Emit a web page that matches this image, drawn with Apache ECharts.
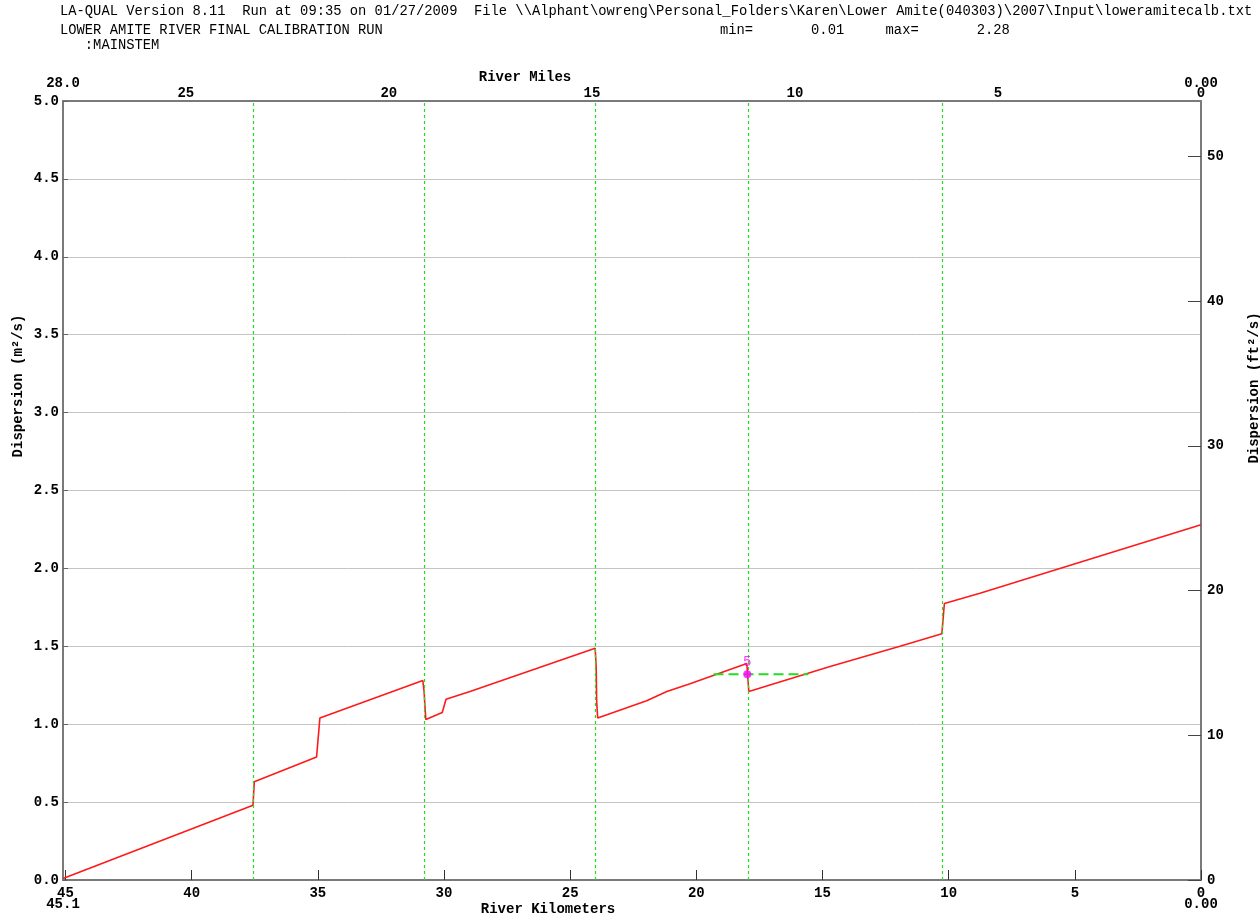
<!DOCTYPE html>
<html>
<head>
<meta charset="utf-8">
<script src="https://cdn.jsdelivr.net/npm/echarts@6/dist/echarts.min.js"></script>
<style>
  html, body { margin: 0; padding: 0; background: #fff; }
  #chart { width: 1260px; height: 916px; }
</style>
</head>
<body>
<div id="chart"></div>
<script>
// Simulated longitudinal dispersion along the main stem (river km -> m²/s)
const profileKm  = [45.1, 37.57, 37.52, 35.05, 34.92, 30.84, 30.79, 30.75, 30.72, 30.07, 29.92, 28.97,
                    24.01, 23.97, 23.95, 23.91, 21.97, 21.17, 20.25, 18.00, 17.92, 14.70, 11.93,
                    10.27, 10.17, 8.76, 0.0];
const profileVal = [0.01, 0.48, 0.63, 0.79, 1.04, 1.28, 1.21, 1.10, 1.03, 1.075, 1.16, 1.21,
                    1.487, 1.37, 1.145, 1.04, 1.15, 1.21, 1.26, 1.39, 1.21, 1.37, 1.50,
                    1.58, 1.775, 1.84, 2.28];

// Calibration observation: station label, location, value and reach span
const obsLabel = ['5'];
const obsKm    = [17.98];
const obsVal   = [1.32];
const obsFromKm = [19.32];
const obsToKm   = [15.56];

// Reach boundaries (river km)
const reachKm = [37.57, 30.79, 24.01, 17.95, 10.26];

// Axis ticks
const kmTicks   = [45, 40, 35, 30, 25, 20, 15, 10, 5, 0];
const mileTicks = [25, 20, 15, 10, 5, 0];
const kmEnds    = [45.1, 0];
const KM_MAX = 45.1;
const M2_MAX = 5.0;
const KM_PER_MILE = 1.609344;
const FT2_PER_M2 = 10.7639;

const MONO = '"Liberation Mono", "DejaVu Sans Mono", monospace';
const AXIS_GRAY = '#7a7a7a';

const chart = echarts.init(document.getElementById('chart'), null, { renderer: 'canvas' });

const tickFont = { fontFamily: MONO, fontWeight: 'bold', fontSize: 14, color: '#000' };

const option = {
  animation: false,
  backgroundColor: '#fff',
  grid: { left: 63, right: 59, top: 101, bottom: 36, containLabel: false },
  xAxis: [
    { // river kilometers (bottom)
      type: 'value', position: 'bottom', inverse: true, min: 0, max: KM_MAX,
      axisLine: { show: true, onZero: false, lineStyle: { color: AXIS_GRAY, width: 2 } },
      axisTick: { show: true, inside: true, length: 10, customValues: kmTicks, lineStyle: { color: '#333', width: 1 } },
      axisLabel: Object.assign({ margin: 6, customValues: kmTicks, formatter: v => String(v) }, tickFont),
      splitLine: { show: false }
    },
    { // river kilometer end values
      type: 'value', position: 'bottom', inverse: true, min: 0, max: KM_MAX, offset: 11,
      axisLine: { show: false }, axisTick: { show: false }, splitLine: { show: false },
      axisLabel: Object.assign({ margin: 6, customValues: kmEnds,
        formatter: v => (v === 0 ? '0.00' : v.toFixed(1)) }, tickFont)
    },
    { // river miles (top)
      type: 'value', position: 'top', inverse: true, min: 0, max: KM_MAX / KM_PER_MILE,
      axisLine: { show: true, onZero: false, lineStyle: { color: AXIS_GRAY, width: 2 } },
      axisTick: { show: false },
      axisLabel: Object.assign({ margin: 1, customValues: mileTicks, formatter: v => String(v) }, tickFont),
      splitLine: { show: false }
    },
    { // river mile end values
      type: 'value', position: 'top', inverse: true, min: 0, max: KM_MAX / KM_PER_MILE, offset: 10,
      axisLine: { show: false }, axisTick: { show: false }, splitLine: { show: false },
      axisLabel: Object.assign({ margin: 1, customValues: [KM_MAX / KM_PER_MILE, 0],
        formatter: v => (v === 0 ? '0.00' : v.toFixed(1)) }, tickFont)
    }
  ],
  yAxis: [
    {
      type: 'value', position: 'left', min: 0, max: M2_MAX, interval: 0.5,
      axisLine: { show: true, onZero: false, lineStyle: { color: AXIS_GRAY, width: 2 } },
      axisTick: { show: true, inside: true, length: 5, lineStyle: { color: '#666' } },
      axisLabel: Object.assign({ margin: 4, formatter: v => v.toFixed(1) }, tickFont),
      splitLine: { show: true, lineStyle: { color: '#c4c4c4', width: 1 } }
    },
    {
      type: 'value', position: 'right', min: 0, max: M2_MAX * FT2_PER_M2, interval: 10,
      alignTicks: false,
      axisLine: { show: true, onZero: false, lineStyle: { color: AXIS_GRAY, width: 2 } },
      axisTick: { show: true, inside: true, length: 13, lineStyle: { color: '#444', width: 1 } },
      axisLabel: Object.assign({ margin: 6, showMaxLabel: false, formatter: v => String(v) }, tickFont),
      splitLine: { show: false }
    }
  ],
  series: [
    { // reach boundaries
      type: 'line', data: [], xAxisIndex: 0, yAxisIndex: 0, silent: true,
      markLine: {
        silent: true, symbol: 'none', animation: false,
        label: { show: false },
        lineStyle: { color: '#22dd22', type: [3, 3], width: 1.2 },
        data: reachKm.map(k => ({ xAxis: k }))
      }
    },
    { // simulated dispersion
      type: 'line', xAxisIndex: 0, yAxisIndex: 0,
      data: profileKm.map((k, i) => [k, profileVal[i]]),
      showSymbol: false, symbol: 'none',
      lineStyle: { color: '#ff1a1a', width: 1.6 }, z: 3
    },
    { // observation span
      type: 'line', xAxisIndex: 0, yAxisIndex: 0,
      data: [[obsFromKm[0], obsVal[0]], [obsToKm[0], obsVal[0]]],
      showSymbol: false, symbol: 'none',
      lineStyle: { color: '#22dd22', width: 2, type: [10, 5] }, z: 4
    },
    { // observation
      type: 'scatter', xAxisIndex: 0, yAxisIndex: 0,
      data: obsKm.map((k, i) => ({ value: [k, obsVal[i]], name: obsLabel[i] })),
      symbol: 'circle', symbolSize: 8,
      itemStyle: { color: '#ff00ff' },
      label: { show: true, position: 'top', distance: 1, formatter: p => p.name,
        color: '#ff00ff', fontFamily: MONO, fontSize: 14 },
      z: 5
    }
  ],
  graphic: [
    { type: 'text', left: 60, top: 4, style: { text: 'LA-QUAL Version 8.11  Run at 09:35 on 01/27/2009  File \\\\Alphant\\owreng\\Personal_Folders\\Karen\\Lower Amite(040303)\\2007\\Input\\loweramitecalb.txt', font: '13.8px ' + MONO, fill: '#000' } },
    { type: 'text', left: 60, top: 23, style: { text: 'LOWER AMITE RIVER FINAL CALIBRATION RUN', font: '13.8px ' + MONO, fill: '#000' } },
    { type: 'text', left: 720, top: 23, style: { text: 'min=       0.01     max=       2.28', font: '13.8px ' + MONO, fill: '#000' } },
    { type: 'text', left: 60, top: 38, style: { text: '   :MAINSTEM', font: '13.8px ' + MONO, fill: '#000' } },
    { type: 'text', x: 525, y: 77, style: { text: 'River Miles', font: 'bold 14px ' + MONO, fill: '#000', textAlign: 'center', textVerticalAlign: 'middle' } },
    { type: 'text', x: 548, y: 909, style: { text: 'River Kilometers', font: 'bold 14px ' + MONO, fill: '#000', textAlign: 'center', textVerticalAlign: 'middle' } },
    { type: 'text', x: 18, y: 386, rotation: Math.PI / 2, style: { text: 'Dispersion (m²/s)', font: 'bold 14px ' + MONO, fill: '#000', textAlign: 'center', textVerticalAlign: 'middle' } },
    { type: 'text', x: 1254, y: 388, rotation: Math.PI / 2, style: { text: 'Dispersion (ft²/s)', font: 'bold 14px ' + MONO, fill: '#000', textAlign: 'center', textVerticalAlign: 'middle' } }
  ]
};

chart.setOption(option);
</script>
</body>
</html>
